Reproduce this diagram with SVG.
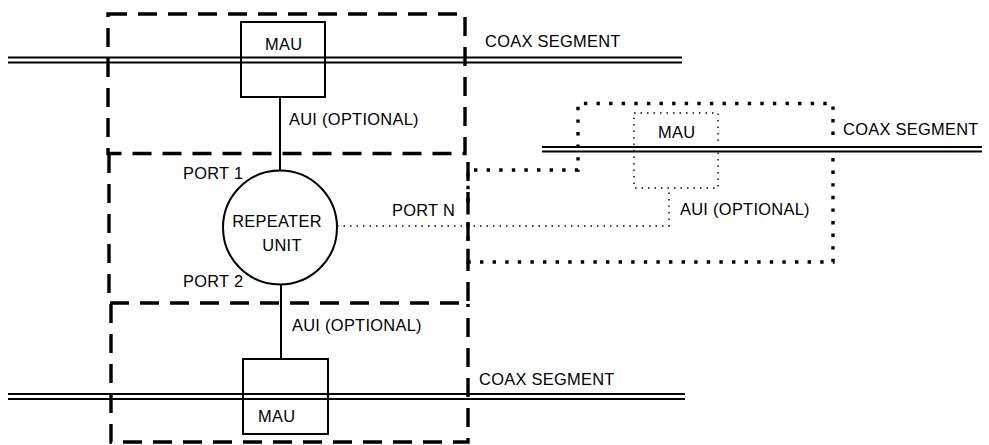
<svg xmlns="http://www.w3.org/2000/svg" width="989" height="445" viewBox="0 0 989 445">
<style>
text{font-family:"Liberation Sans",Arial,sans-serif;font-size:16.4px;fill:#000;letter-spacing:0.3px}
.dash{fill:none;stroke:#000;stroke-width:3.4;stroke-dasharray:19 11}
.dots{fill:none;stroke:#000;stroke-width:3.4;stroke-dasharray:3.4 9.2}
.fine{fill:none;stroke:#000;stroke-width:1.4;stroke-dasharray:1.5 5}
.solid{fill:none;stroke:#000;stroke-width:2}
.coax{fill:none;stroke:#000;stroke-width:2}
</style>
<rect width="989" height="445" fill="#fff"/>
<g id="coax-top">
<path class="coax" d="M8,57.5 H682 M8,62.5 H682"/>
<text x="485" y="47">COAX SEGMENT</text>
</g>
<g id="coax-right">
<path class="coax" d="M542,147 H982 M542,151.5 H982"/>
<text x="843" y="135">COAX SEGMENT</text>
</g>
<g id="coax-bottom">
<path class="coax" d="M8,394 H685 M8,399 H685"/>
<text x="479" y="385">COAX SEGMENT</text>
</g>
<g id="box-top">
<rect class="dash" x="108" y="14" width="357" height="139.5"/>
</g>
<g id="box-middle">
<path class="dash" d="M109,154 V303 H468 V153.5"/>
</g>
<g id="box-bottom">
<path class="dash" d="M111,304 V442 H468 V304"/>
</g>
<g id="box-port-n">
<path class="dots" d="M833,158 V262 H468 V170 H578 V103.5 H833 V137"/>
</g>
<g id="connectors">
<line class="solid" x1="280" y1="97" x2="280" y2="170.5"/>
<line class="solid" x1="281" y1="284.5" x2="281" y2="359"/>
<path class="fine" d="M337,226 H669 V188"/>
</g>
<g id="mau-top">
<rect class="solid" x="241" y="22" width="84" height="75"/>
<text x="265" y="50">MAU</text>
</g>
<g id="mau-right">
<rect class="fine" x="634" y="113" width="84" height="75"/>
<text x="658" y="138">MAU</text>
</g>
<g id="mau-bottom">
<rect class="solid" x="243" y="359" width="85" height="75"/>
<text x="258" y="422">MAU</text>
</g>
<g id="repeater">
<circle class="solid" cx="280" cy="227.5" r="57"/>
<text x="277" y="227" text-anchor="middle">REPEATER</text>
<text x="282" y="251" text-anchor="middle">UNIT</text>
</g>
<g id="labels">
<text x="289" y="125">AUI (OPTIONAL)</text>
<text x="292" y="331">AUI (OPTIONAL)</text>
<text x="680" y="215">AUI (OPTIONAL)</text>
<text x="183" y="179">PORT 1</text>
<text x="183" y="287">PORT 2</text>
<text x="392" y="216">PORT N</text>
</g>
</svg>
